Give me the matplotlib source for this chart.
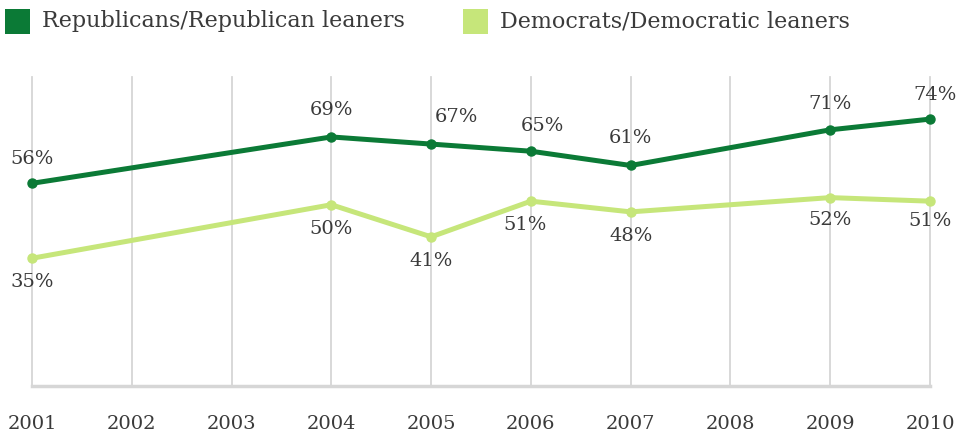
import matplotlib
matplotlib.use("Agg")
import matplotlib.pyplot as plt
from matplotlib.patches import Rectangle

years_all = [2001, 2002, 2003, 2004, 2005, 2006, 2007, 2008, 2009, 2010]
years = [2001, 2004, 2005, 2006, 2007, 2009, 2010]
rep = [56, 69, 67, 65, 61, 71, 74]
dem = [35, 50, 41, 51, 48, 52, 51]
series_names = ["Republicans/Republican leaners", "Democrats/Democratic leaners"]

rep_color = "#0b7a36"
dem_color = "#c6e67a"
grid_color = "#d6d6d6"
text_color = "#3a3a3a"
FONT = ["DejaVu Serif"]

fig = plt.figure(figsize=(9.58, 4.37), dpi=100)
W, H = 958, 437
ax = fig.add_axes([32 / W, (H - 386) / H, (930 - 32) / W, (386 - 77) / H])
ax.set_xlim(2001, 2010)
ax.set_ylim(-0.8, 85.8)

for y in years_all:
    ax.axvline(y, color=grid_color, lw=1.3, zorder=0, clip_on=False)
for s in ["top", "left", "right"]:
    ax.spines[s].set_visible(False)
ax.spines["bottom"].set_color(grid_color)
ax.spines["bottom"].set_linewidth(2.5)
ax.set_yticks([])
ax.set_xticks(years_all)
ax.set_xticklabels([str(y) for y in years_all], fontsize=14, family=FONT, color=text_color)
ax.tick_params(axis="x", length=0, pad=21)

ax.plot(years, rep, color=rep_color, lw=3.6, marker="o", ms=6.5, zorder=3, clip_on=False)
ax.plot(years, dem, color=dem_color, lw=3.6, marker="o", ms=6.5, zorder=3, clip_on=False)

rep_off = [(0, 24), (0, 27), (25, 27), (12, 25), (0, 27), (0, 26), (5, 24)]
dem_off = [(0, -24), (0, -24), (0, -24), (-6, -24), (0, -24), (0, -22), (0, -20)]
for x, v, o in zip(years, rep, rep_off):
    ax.annotate(f"{v}%", (x, v), xytext=o, textcoords="offset pixels", ha="center", va="center",
                fontsize=14, family=FONT, color=text_color, annotation_clip=False)
for x, v, o in zip(years, dem, dem_off):
    ax.annotate(f"{v}%", (x, v), xytext=o, textcoords="offset pixels", ha="center", va="center",
                fontsize=14, family=FONT, color=text_color, annotation_clip=False)

# legend
for (x0, col, name) in [(5, rep_color, series_names[0]), (463, dem_color, series_names[1])]:
    fig.patches.append(Rectangle((x0 / W, (H - 34) / H), 25 / W, 25 / H, transform=fig.transFigure,
                                 facecolor=col, edgecolor="none"))
    fig.text((x0 + 37) / W, (H - 21) / H, name, ha="left", va="center", fontsize=16,
             family=FONT, color=text_color)

fig.savefig("out.png", dpi=100)
